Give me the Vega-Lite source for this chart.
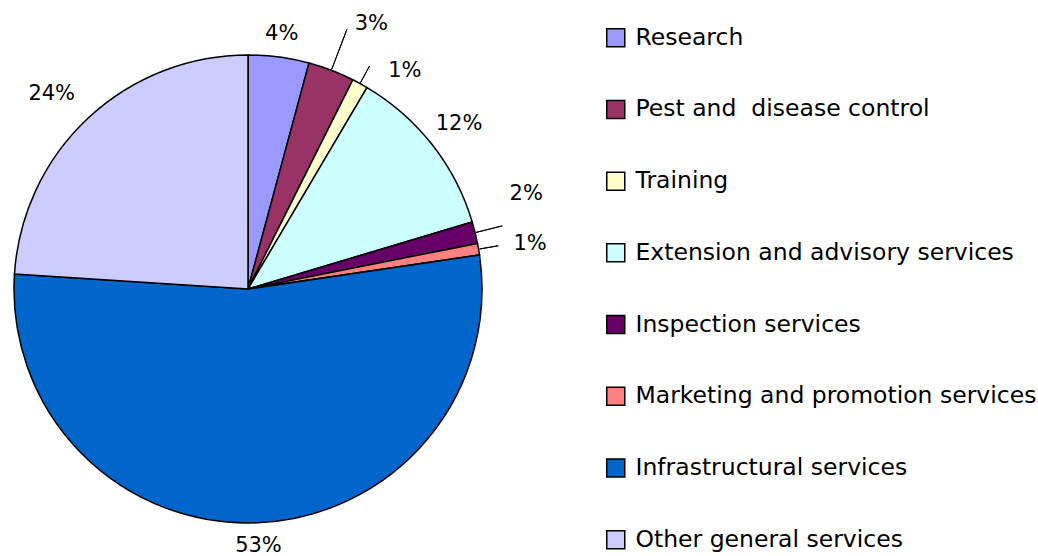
{
  "$schema": "https://vega.github.io/schema/vega-lite/v6.json",
  "width": 496,
  "height": 534,
  "autosize": {"type": "none"},
  "padding": {"left": 0, "top": 22, "right": 542, "bottom": 0},
  "background": "white",
  "config": {"view": {"stroke": null}, "font": "DejaVu Sans"},
  "data": {
    "values": [
      {"category": "Research", "value": 4.2, "pct": "4%"},
      {"category": "Pest and\u00a0 disease control", "value": 3.2, "pct": "3%"},
      {"category": "Training", "value": 1.1, "pct": "1%"},
      {"category": "Extension and advisory services", "value": 11.9, "pct": "12%"},
      {"category": "\u00a0Inspection services", "value": 1.5, "pct": "2%"},
      {"category": "Marketing and promotion services", "value": 0.8, "pct": "1%"},
      {"category": "Infrastructural services", "value": 53.4, "pct": "53%"},
      {"category": "Other general services", "value": 24.0, "pct": "24%"}
    ]
  },
  "transform": [{"window": [{"op": "row_number", "as": "idx"}]}],
  "encoding": {
    "theta": {"field": "value", "type": "quantitative", "stack": true},
    "order": {"field": "idx", "type": "quantitative", "sort": "ascending"},
    "color": {
      "field": "category",
      "type": "nominal",
      "sort": ["Research", "Pest and\u00a0 disease control", "Training", "Extension and advisory services", "\u00a0Inspection services", "Marketing and promotion services", "Infrastructural services", "Other general services"],
      "scale": {
        "domain": ["Research", "Pest and\u00a0 disease control", "Training", "Extension and advisory services", "\u00a0Inspection services", "Marketing and promotion services", "Infrastructural services", "Other general services"],
        "range": ["#9999FF", "#993366", "#FFFFCC", "#CCFFFF", "#660066", "#FF8080", "#0066CC", "#CCCCFF"]
      },
      "legend": {
        "title": null,
        "orient": "none",
        "legendX": 604,
        "legendY": 4,
        "symbolType": "square",
        "symbolSize": 324,
        "symbolStrokeColor": "black",
        "symbolStrokeWidth": 1.5,
        "symbolOpacity": 1,
        "labelFont": "DejaVu Sans",
        "labelFontSize": 23.5,
        "labelColor": "black",
        "labelOffset": 8,
        "labelLimit": 500,
        "rowPadding": 46.7,
        "padding": 0
      }
    }
  },
  "layer": [
    {
      "mark": {"type": "arc", "outerRadius": 234, "stroke": "black", "strokeWidth": 1.5}
    },
    {
      "mark": {"type": "arc", "innerRadius": 235, "outerRadius": 278, "padAngle": 3, "stroke": "black", "strokeWidth": 1, "fillOpacity": 0},
      "encoding": {
        "strokeOpacity": {"condition": {"test": "datum.category === 'Pest and\u00a0 disease control'", "value": 1}, "value": 0}
      }
    },
    {
      "mark": {"type": "arc", "innerRadius": 235, "outerRadius": 254, "padAngle": 3, "stroke": "black", "strokeWidth": 1, "fillOpacity": 0},
      "encoding": {
        "strokeOpacity": {"condition": {"test": "datum.category === 'Training' || datum.category === 'Marketing and promotion services'", "value": 1}, "value": 0}
      }
    },
    {
      "mark": {"type": "arc", "innerRadius": 235, "outerRadius": 262, "padAngle": 3, "stroke": "black", "strokeWidth": 1, "fillOpacity": 0},
      "encoding": {
        "strokeOpacity": {"condition": {"test": "datum.category === '\u00a0Inspection services'", "value": 1}, "value": 0}
      }
    },
    {
      "mark": {"type": "text", "radius": 257, "fontSize": 21, "font": "DejaVu Sans"},
      "encoding": {
        "color": {"value": "black"},
        "text": {"condition": {"test": "datum.category === 'Research' || datum.category === 'Infrastructural services'", "field": "pct"}, "value": ""}
      }
    },
    {
      "mark": {"type": "text", "radius": 268, "fontSize": 21, "font": "DejaVu Sans"},
      "encoding": {
        "color": {"value": "black"},
        "text": {"condition": {"test": "datum.category === 'Extension and advisory services'", "field": "pct"}, "value": ""}
      }
    },
    {
      "mark": {"type": "text", "radius": 265, "dx": -15, "dy": -2, "fontSize": 21, "font": "DejaVu Sans"},
      "encoding": {
        "color": {"value": "black"},
        "text": {"condition": {"test": "datum.category === 'Other general services'", "field": "pct"}, "value": ""}
      }
    },
    {
      "mark": {"type": "text", "radius": 265, "dx": 29, "dy": -17, "fontSize": 21, "font": "DejaVu Sans"},
      "encoding": {
        "color": {"value": "black"},
        "text": {"condition": {"test": "datum.category === 'Pest and\u00a0 disease control'", "field": "pct"}, "value": ""}
      }
    },
    {
      "mark": {"type": "text", "radius": 265, "dx": 30, "dy": 15, "fontSize": 21, "font": "DejaVu Sans"},
      "encoding": {
        "color": {"value": "black"},
        "text": {"condition": {"test": "datum.category === 'Training'", "field": "pct"}, "value": ""}
      }
    },
    {
      "mark": {"type": "text", "radius": 265, "dx": 21, "dy": -31, "fontSize": 21, "font": "DejaVu Sans"},
      "encoding": {
        "color": {"value": "black"},
        "text": {"condition": {"test": "datum.category === '\u00a0Inspection services'", "field": "pct"}, "value": ""}
      }
    },
    {
      "mark": {"type": "text", "radius": 265, "dx": 21, "dy": 0, "fontSize": 21, "font": "DejaVu Sans"},
      "encoding": {
        "color": {"value": "black"},
        "text": {"condition": {"test": "datum.category === 'Marketing and promotion services'", "field": "pct"}, "value": ""}
      }
    }
  ]
}
